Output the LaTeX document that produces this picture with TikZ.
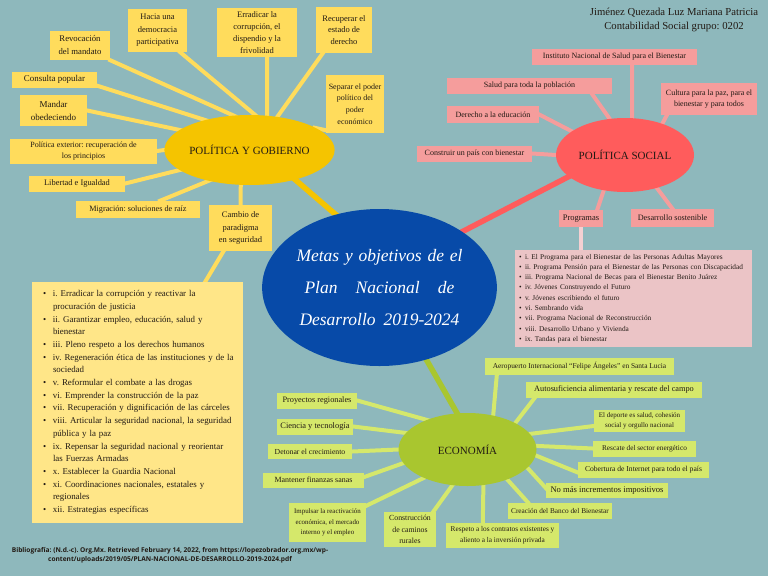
\documentclass[tikz,border=0pt]{standalone}
\usepackage{fontspec}
\setmainfont{Liberation Serif}
\newfontfamily\biblfont{Open Sans}
\usetikzlibrary{calc,shapes.geometric}
\pgfdeclarelayer{bgl}
\pgfdeclarelayer{lines}
\pgfsetlayers{bgl,lines,main}
\frenchspacing
\definecolor{bgc}{HTML}{8EB8BC}
\definecolor{yb}{HTML}{FFDC5C}
\definecolor{ylistc}{HTML}{FFE688}
\definecolor{gold}{HTML}{F5C400}
\definecolor{blu}{HTML}{074AA8}
\definecolor{coral}{HTML}{FF5C5C}
\definecolor{pk}{HTML}{F59D9C}
\definecolor{pklist}{HTML}{EBC4C6}
\definecolor{pkline}{HTML}{F4D0D2}
\definecolor{lime}{HTML}{A9C62F}
\definecolor{gb}{HTML}{D5E86B}
\definecolor{txt}{HTML}{221A14}
\newcommand\fsz[2]{\fontsize{#1}{#2}\selectfont}
\newcommand\ybul[1]{\hspace*{11pt}\makebox[10pt][l]{\textbullet}\mbox{#1}}
\newcommand\ycont[1]{\hspace*{21pt}\mbox{#1}}
\newcommand\pbul[1]{\hspace*{4pt}\makebox[6pt][l]{\textbullet}\mbox{#1}}
\begin{document}
\begin{tikzpicture}[x=1pt,y=-1pt,
  box/.style={inner sep=0pt, align=center, text=txt},
  ybox/.style={box, fill=yb, font=\fsz{8.5}{12.5}},
  pbox/.style={box, fill=pk, font=\fsz{8}{10}},
  gbox/.style={box, fill=gb},
  wh/.style 2 args={minimum width=#1, minimum height=#2},
  oval/.style={ellipse, inner sep=0pt, text=txt, font=\fsz{11}{13}},
  yline/.style={draw=yb, line width=4pt, shorten >=-4pt, shorten <=-2pt},
  pline/.style={draw=pk, line width=4pt, shorten >=-4pt, shorten <=-2pt},
  gline/.style={draw=gb, line width=4pt, shorten >=-4pt, shorten <=-2pt},
  mainline/.style={line width=5.5pt, shorten >=-4pt, shorten <=-4pt},
]
\begin{pgfonlayer}{bgl}
\fill[bgc] (0,0) rectangle (768,576);
\end{pgfonlayer}
\useasboundingbox (0,0) rectangle (768,576);

% ---- centre
\node[ellipse, fill=blu, wh={195}{157}, inner sep=0pt, text=white, align=center, font=\itshape\fsz{17.5}{32}] (ctr) at (379.5,287.5)
  {\makebox[166pt][s]{Metas y objetivos de el}\\\makebox[150pt][s]{Plan Nacional de}\\\makebox[160pt][s]{Desarrollo 2019-2024}};

% ---- Politica y gobierno
\node[oval, fill=gold, wh={135}{70}] (pg) at (249.5,150) {POLÍTICA Y GOBIERNO};
\node[ybox, wh={60}{29}, font=\fsz{8.7}{13}] (rev) at (80,45.5) {Revocación\\del mandato};
\node[ybox, wh={59}{43}] (hac) at (157.5,30.5) {Hacia una\\democracia\\participativa};
\node[ybox, wh={80}{49}, font=\fsz{8.5}{12}] (err) at (257,32.5) {Erradicar la\\corrupción, el\\dispendio y la\\frivolidad};
\node[ybox, wh={56}{46}, font=\fsz{8.5}{11.5}] (rec) at (344,30) {Recuperar el\\estado de\\derecho};
\node[ybox, wh={58}{58}, font=\fsz{8}{11.7}] (sep) at (355,104) {Separar el poder\\político del\\poder\\económico};
\node[ybox, wh={85}{16}, font=\fsz{8.9}{10}] (con) at (54.5,79.5) {Consulta popular};
\node[ybox, wh={67}{31}, font=\fsz{9}{13}] (man) at (53.5,110.5) {Mandar\\obedeciendo};
\node[ybox, wh={147}{25}, font=\fsz{8}{11.7}] (pol) at (83.5,151) {Política exterior: recuperación de\\los principios};
\node[ybox, wh={96}{16}, font=\fsz{8.4}{10}] (lib) at (77,183.5) {Libertad e Igualdad};
\node[ybox, wh={124}{17}, font=\fsz{8.2}{10}] (mig) at (138,209.5) {Migración: soluciones de raíz};
\node[ybox, wh={63}{46}, font=\fsz{8.5}{12.2}] (cam) at (240.5,228) {Cambio de\\paradigma\\en seguridad};
\node[box, fill=ylistc, wh={211}{241}, text width=211, align=left, font=\fsz{8.9}{12.7}] (ylist) at (137.5,402.5) {\noindent
\ybul{i. Erradicar la corrupción y reactivar la}\\
\ycont{procuración de justicia}\\
\ybul{ii. Garantizar empleo, educación, salud y}\\
\ycont{bienestar}\\
\ybul{iii. Pleno respeto a los derechos humanos}\\
\ybul{iv. Regeneración ética de las instituciones y de la}\\
\ycont{sociedad}\\
\ybul{v. Reformular el combate a las drogas}\\
\ybul{vi. Emprender la construcción de la paz}\\
\ybul{vii. Recuperación y dignificación de las cárceles}\\
\ybul{viii. Articular la seguridad nacional, la seguridad}\\
\ycont{pública y la paz}\\
\ybul{ix. Repensar la seguridad nacional y reorientar}\\
\ycont{las Fuerzas Armadas}\\
\ybul{x. Establecer la Guardia Nacional}\\
\ybul{xi. Coordinaciones nacionales, estatales y}\\
\ycont{regionales}\\
\ybul{xii. Estrategias específicas}};

% ---- Politica social
\node[oval, fill=coral, wh={138}{74}] (ps) at (625,155) {POLÍTICA SOCIAL};
\node[pbox, wh={165}{16}] (ins) at (614.5,56.5) {Instituto Nacional de Salud para el Bienestar};
\node[pbox, wh={165}{16}] (sal) at (529.5,86) {Salud para toda la población};
\node[pbox, wh={96}{32}, font=\fsz{8}{11.5}] (cul) at (709,99) {Cultura para la paz, para el\\bienestar y para todos};
\node[pbox, wh={92}{17}] (der) at (493,114.5) {Derecho a la educación};
\node[pbox, wh={115}{16}] (cons) at (474.5,153.5) {Construir un país con bienestar};
\node[pbox, wh={44}{17}, font=\fsz{8.5}{10}] (prog) at (581,218.5) {Programas};
\node[pbox, wh={83}{18}, font=\fsz{8.2}{10}] (des) at (672.5,218) {Desarrollo sostenible};
\node[box, fill=pklist, wh={237}{97}, text width=237, align=left, font=\fsz{7.3}{10.3}] (plist) at (633.5,298.5) {\noindent
\pbul{i. El Programa para el Bienestar de las Personas Adultas Mayores}\\
\pbul{ii. Programa Pensión para el Bienestar de las Personas con Discapacidad}\\
\pbul{iii. Programa Nacional de Becas para el Bienestar Benito Juárez}\\
\pbul{iv. Jóvenes Construyendo el Futuro}\\
\pbul{v. Jóvenes escribiendo el futuro}\\
\pbul{vi. Sembrando vida}\\
\pbul{vii. Programa Nacional de Reconstrucción}\\
\pbul{viii. Desarrollo Urbano y Vivienda}\\
\pbul{ix. Tandas para el bienestar}};

% ---- Economia
\node[oval, fill=lime, wh={138}{73}] (eco) at (467.5,449.5) {ECONOMÍA};
\node[gbox, wh={189}{17}, font=\fsz{7.4}{9}] (aer) at (579.5,366.5) {Aeropuerto Internacional “Felipe Ángeles” en Santa Lucia};
\node[gbox, wh={176}{16}, font=\fsz{8.3}{10}] (aut) at (614,389.5) {Autosuficiencia alimentaria y rescate del campo};
\node[gbox, wh={91}{22}, font=\fsz{7}{10.5}] (dep) at (639.5,421) {El deporte es salud, cohesión\\social y orgullo nacional};
\node[gbox, wh={103}{16}, font=\fsz{7.3}{9}] (res) at (644.5,448.5) {Rescate del sector energético};
\node[gbox, wh={131}{16}, font=\fsz{7.6}{9}] (cob) at (643.5,469.5) {Cobertura de Internet para todo el país};
\node[gbox, wh={122}{15}, font=\fsz{8.6}{10}] (nom) at (607,490) {No más incrementos impositivos};
\node[gbox, wh={104}{16}, font=\fsz{7.3}{9}] (cre) at (560,510.5) {Creación del Banco del Bienestar};
\node[gbox, wh={113}{25}, font=\fsz{7.3}{11.5}] (resp) at (502.5,535) {Respeto a los contratos existentes y\\aliento a la inversión privada};
\node[gbox, wh={52}{35}, font=\fsz{7.8}{11.3}] (cam2) at (410,529.5) {Construcción\\de caminos\\rurales};
\node[gbox, wh={77}{39}, font=\fsz{6.9}{10.5}] (imp) at (327.5,522.5) {Impulsar la reactivación\\económica, el mercado\\interno y el empleo};
\node[gbox, wh={101}{15}, font=\fsz{7.9}{9}] (man2) at (313.5,480) {Mantener finanzas sanas};
\node[gbox, wh={84}{15}, font=\fsz{7.7}{9}] (det) at (310,451.5) {Detonar el crecimiento};
\node[gbox, wh={76}{16}, font=\fsz{8.4}{10}] (cie) at (315,426.5) {Ciencia y tecnología};
\node[gbox, wh={80}{16}, font=\fsz{8.3}{10}] (pro) at (317,400.5) {Proyectos regionales};

% ---- header and bibliography
\node[align=center, text=txt, font=\fsz{10.7}{14}] (hdr) at (674,20) {Jiménez Quezada Luz Mariana Patricia\\Contabilidad Social grupo: 0202};
\node[align=center, text=txt, font=\biblfont\bfseries\fsz{6.6}{9.5}] (bib) at (170,555.5) {Bibliografía: (N.d.-c). Org.Mx. Retrieved February 14, 2022, from https://lopezobrador.org.mx/wp-\\content/uploads/2019/05/PLAN-NACIONAL-DE-DESARROLLO-2019-2024.pdf};

% ---- connectors
\begin{pgfonlayer}{lines}
\draw[yline] (rev.south east) -- (pg.115);
\draw[yline] ($(hac.south east)+(-7,0)$) -- (pg.81);
\draw[yline] ($(err.south)+(10,0)$) -- (pg.63);
\draw[yline] ($(rec.south west)+(7,0)$) -- (pg.50);
\draw[yline] ($(sep.south west)+(0,-3)$) -- (pg.18);
\draw[yline] ($(con.south east)+(0,-2)$) -- (pg.146);
\draw[yline] (man.east) -- (pg.164);
\draw[yline] (pol.east) -- (pg.180);
\draw[yline] (lib.east) -- (pg.196);
\draw[yline] ($(mig.north)+(22,0)$) -- (pg.217);
\draw[yline] (cam.north) -- (pg.256);
\draw[yline, shorten >=-2pt] ($(cam.south)+(-17,0)$) -- ($(ylist.north)!0.64!(ylist.north east)$);

\draw[pline] ($(ins.south)+(17.5,0)$) -- (ps.79);
\draw[pline] ($(sal.south east)+(-20,0)$) -- (ps.113);
\draw[pline] ($(cul.south west)+(6,0)$) -- (ps.40);
\draw[pline] (der.east) -- (ps.156);
\draw[pline] (cons.east) -- (ps.180);
\draw[pline] ($(prog.north east)+(-6,0)$) -- (ps.239);
\draw[pline] (des.north) -- (ps.314);
\draw[draw=pkline, line width=4pt, shorten >=-2pt, shorten <=-2pt] (prog.south) -- (prog.south |- plist.north);

\draw[gline] ($(aer.south west)+(12,0)$) -- (eco.53);
\draw[gline] ($(aut.south west)+(9,0)$) -- (eco.29);
\draw[gline] ($(dep.west)+(0,5)$) -- (eco.14);
\draw[gline] (res.west) -- (eco.3);
\draw[gline] ($(cob.west)+(0,3)$) -- (eco.-5);
\draw[gline] ($(nom.west)+(0,-2)$) -- (eco.-17);
\draw[gline] ($(cre.north west)+(20,0)$) -- (eco.-37);
\draw[gline] ($(resp.north west)+(37,0)$) -- (eco.-66);
\draw[gline] ($(cam2.north east)+(-3,0)$) -- (eco.-113);
\draw[gline] ($(imp.north east)+(0,3)$) -- (eco.-147);
\draw[gline] ($(man2.east)+(0,-3)$) -- (eco.-168);
\draw[gline] (det.east) -- (eco.180);
\draw[gline] (cie.east) -- (eco.165);
\draw[gline] (pro.east) -- (eco.144);

\draw[gold, mainline] (pg.-33) -- (ctr.121.5);
\draw[coral, mainline] (ps.201) -- (ctr.34);
\draw[lime, mainline] (eco.106) -- (ctr.-57);
\end{pgfonlayer}
\end{tikzpicture}
\end{document}
